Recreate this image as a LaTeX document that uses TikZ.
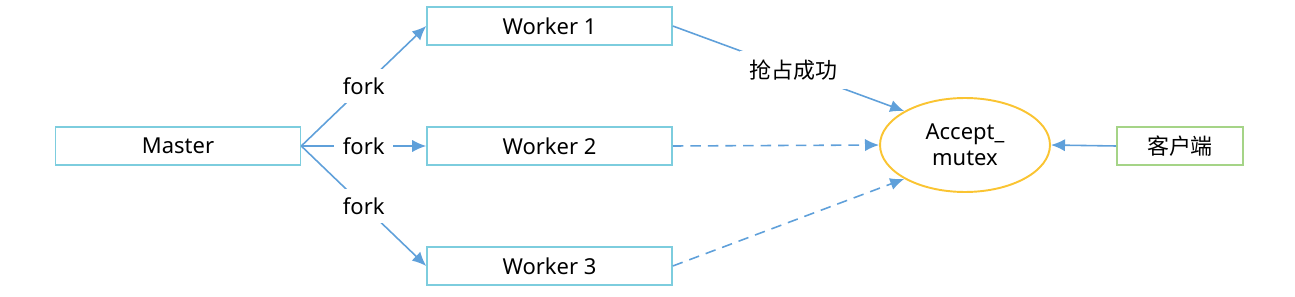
\documentclass[tikz,border=0pt]{standalone}
\usepackage{fontspec}
\setmainfont{Noto Sans}
\newfontfamily\cjk{Noto Sans CJK SC}
\definecolor{wkcyan}{RGB}{125,205,222}
\definecolor{clgreen}{RGB}{165,212,135}
\definecolor{mtxyellow}{RGB}{250,196,50}
\definecolor{arblue}{RGB}{95,160,218}
\usetikzlibrary{arrows.meta,positioning,shapes.geometric}

\begin{document}
\begin{tikzpicture}[
  x=0.02cm,y=-0.02cm,
  wbox/.style={draw=wkcyan,line width=0.9pt,minimum width=4.9cm,minimum height=0.76cm,
    font=\fontsize{12.5}{14}\selectfont,inner sep=0pt},
  cbox/.style={draw=clgreen,line width=0.9pt,minimum width=2.52cm,minimum height=0.76cm,
    font=\cjk\fontsize{12.5}{14}\selectfont,inner sep=0pt},
  arr/.style={draw=arblue,line width=0.9pt,-{Latex[length=8pt,width=7pt]}},
  dasharr/.style={arr,dash pattern=on 6pt off 4pt},
  lbl/.style={fill=white,font=\fontsize{12.5}{14}\selectfont,inner sep=5pt}
]
  \useasboundingbox (0,0) rectangle (1295,297);
  % boxes
  \node[wbox] (master) at (178,146) {Master};
  \node[wbox] (worker1) at (549.5,26) {Worker 1};
  \node[wbox] (worker2) at (549.5,146) {Worker 2};
  \node[wbox] (worker3) at (549.5,266) {Worker 3};
  \node[draw=mtxyellow,line width=1.1pt,ellipse,minimum width=3.4cm,minimum height=1.88cm,
    align=center,font=\fontsize{12.5}{15}\selectfont,inner sep=0pt] (mutex) at (965,145) {Accept\_\\mutex};
  \node[cbox] (client) at (1180,146) {客户端};
  % fork arrows
  \path[arr] (master.east) -- node[lbl] {fork} (worker1.west);
  \path[arr] (master.east) -- node[lbl] {fork} (worker2.west);
  \path[arr] (master.east) -- node[lbl] {fork} (worker3.west);
  % competition
  \path[arr] (worker1.east) -- node[lbl,font=\cjk\fontsize{12.5}{14}\selectfont,pos=0.52] {抢占成功} (mutex.north west);
  \path[dasharr] (worker2.east) -- (mutex.west);
  \path[dasharr] (worker3.east) -- (mutex.south west);
  \path[arr] (client.west) -- (mutex.east);
\end{tikzpicture}
\end{document}
